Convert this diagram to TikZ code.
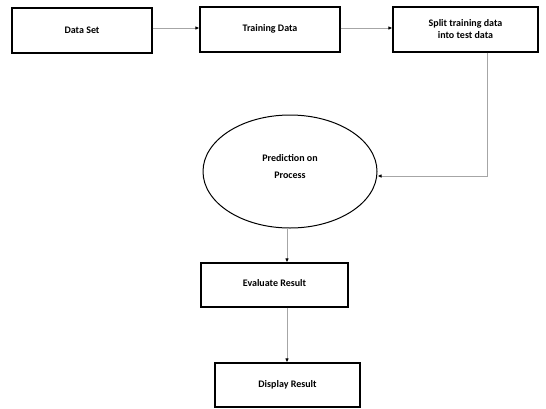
\documentclass[tikz,border=0pt]{standalone}
\usepackage{fontspec}
\setmainfont{Carlito}
\usetikzlibrary{arrows.meta,shapes.geometric}
\begin{document}
\begin{tikzpicture}[x=1pt,y=-1pt,
  box/.style={draw=black,line width=1.1pt,font=\bfseries\fontsize{10}{12}\selectfont,align=center,inner sep=0pt},
  conn/.style={draw=black!35,line width=0.9pt,-{Latex[length=4pt,width=3.5pt,fill=black,color=black]}}]
\useasboundingbox (0,0) rectangle (546,408);
\node[box,minimum width=140pt,minimum height=45pt] (ds) at (82,30.5) {Data Set};
\node[box,minimum width=140pt,minimum height=45pt] (td) at (270,29.5) {\raisebox{4pt}{Training Data}};
\node[box,minimum width=145pt,minimum height=45pt] (sp) at (465.5,29.5) {Split training data\\into test data};
\node[draw=black,line width=1pt,ellipse,minimum width=174pt,minimum height=113pt,inner sep=0pt,align=center,font=\bfseries\fontsize{10}{17}\selectfont] (pp) at (290,171.5) {Prediction on\\Process\\[-6pt]};
\node[box,minimum width=147pt,minimum height=44pt] (ev) at (274.5,285) {\raisebox{4pt}{Evaluate Result}};
\node[box,minimum width=145pt,minimum height=44pt] (dr) at (287.5,385) {\raisebox{2pt}{Display Result}};
\draw[conn] (ds.east |- 0,28) -- (td.west |- 0,28);
\draw[conn] (td.east |- 0,28) -- (sp.west |- 0,28);
\draw[conn] (sp.south -| 487,0) |- (pp.east |- 0,176);
\draw[conn] (pp.south -| 287,0) -- (ev.north -| 287,0);
\draw[conn] (ev.south -| 287,0) -- (dr.north -| 287,0);
\end{tikzpicture}
\end{document}
